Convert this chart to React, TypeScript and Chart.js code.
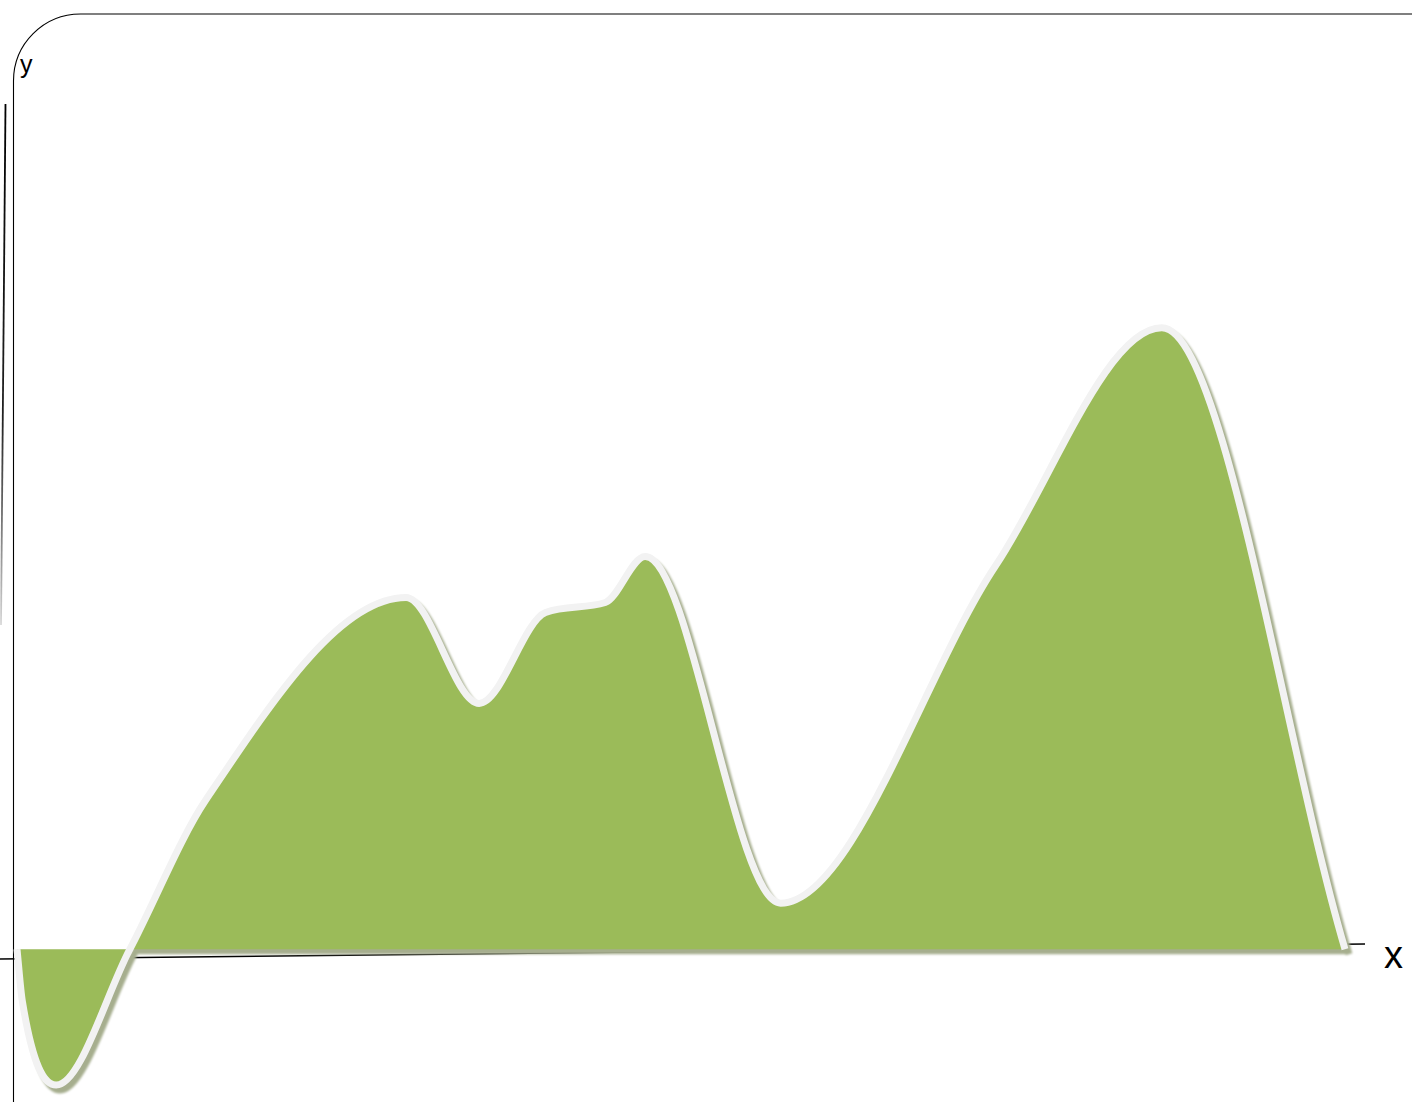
import React, { useEffect, useRef } from "react";
import { Chart, registerables } from "chart.js";

Chart.register(...registerables);

const xValues = [0, 0.4, 2.95, 8.5, 14.2, 29.3, 34.8, 39.8, 44.3, 47.3, 57.5, 73.7, 86.2, 100];
const yValues = [0, -5.2, -13.6, 0, 14.9, 35.2, 24.6, 33.7, 34.7, 39.3, 4.6, 38.4, 62.2, 0];

const xMin = 0;
const xMax = 100;
const yMin = -15;
const yMax = 89;

const axisLabelX = "x";
const axisLabelY = "y";

const fillColor = "#9bbb59";
const lineColor = "#f2f2f2";

export default function App() {
  const ref = useRef<HTMLCanvasElement | null>(null);

  useEffect(() => {
    if (!ref.current) return;
    const chart = new Chart(ref.current, {
      type: "line",
      data: {
        datasets: [
          {
            data: xValues.map((x, i) => ({ x, y: yValues[i] })),
            borderColor: lineColor,
            borderWidth: 7,
            backgroundColor: fillColor,
            fill: { target: "origin", above: fillColor, below: fillColor },
            pointRadius: 0,
            cubicInterpolationMode: "monotone",
            clip: false,
          } as any,
        ],
      },
      options: {
        responsive: false,
        animation: false,
        devicePixelRatio: 1,
        layout: { padding: { left: 17, right: 67, top: 60, bottom: 3 } },
        plugins: { legend: { display: false }, tooltip: { enabled: false } },
        scales: {
          x: { type: "linear", min: xMin, max: xMax, display: false },
          y: { type: "linear", min: yMin, max: yMax, display: false },
        },
      },
    });
    return () => chart.destroy();
  }, []);

  const font = "'Liberation Sans', Arial, sans-serif";

  return (
    <div style={{ position: "fixed", left: 0, top: 0, width: 1412, height: 1102, background: "#fff", overflow: "hidden" }}>
      <svg width={1412} height={1102} style={{ position: "absolute", left: 0, top: 0 }}>
        <defs>
          <linearGradient id="lg" x1="0" y1="0" x2="0" y2="1">
            <stop offset="0" stopColor="#000" />
            <stop offset="0.6" stopColor="#222" />
            <stop offset="1" stopColor="#000" stopOpacity="0.15" />
          </linearGradient>
        </defs>
        <line x1={0} y1={959} x2={1365} y2={944} stroke="#000" strokeWidth={1.5} />
        <path d="M13.5 1102 L13.5 81 A67 67 0 0 1 80.5 14 L1412 14" fill="none" stroke="#000" strokeWidth={1.1} />
        <path d="M5.5 104 L1 625" fill="none" stroke="url(#lg)" strokeWidth={1.8} />
        <text x={20} y={73} fontFamily={font} fontSize={25} fill="#000">{axisLabelY}</text>
        <text x={1384} y={968} fontFamily={font} fontSize={38} fill="#000">{axisLabelX}</text>
      </svg>
      <canvas
        ref={ref}
        width={1412}
        height={1102}
        style={{ position: "absolute", left: 0, top: 0, filter: "drop-shadow(4px 5px 1px rgb(166,174,142))" }}
      />
    </div>
  );
}
